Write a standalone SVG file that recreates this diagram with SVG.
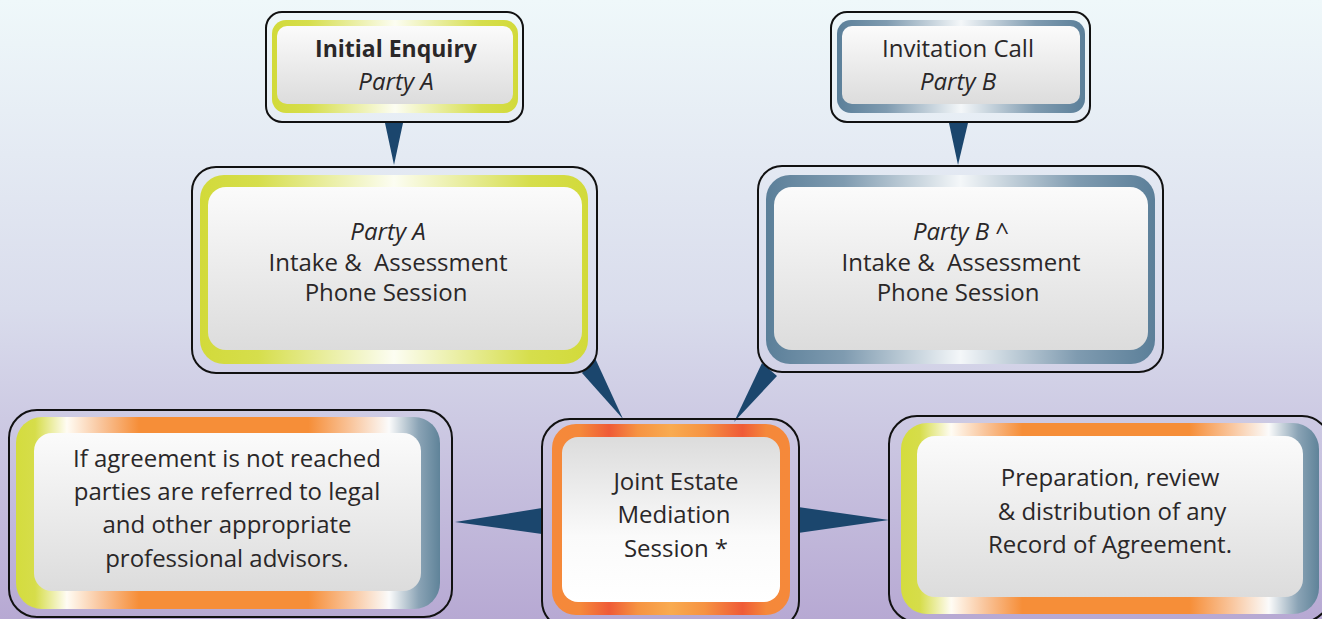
<svg xmlns="http://www.w3.org/2000/svg" width="1322" height="619" viewBox="0 0 1322 619">
<defs>
<linearGradient id="bg" x1="0" y1="0" x2="0" y2="1">
<stop offset="0" stop-color="#eff8fa"/>
<stop offset="0.5" stop-color="#d9dcec"/>
<stop offset="1" stop-color="#b7a9d3"/>
</linearGradient>
<linearGradient id="gYel" x1="0" y1="0" x2="1" y2="0">
<stop offset="0" stop-color="#d2da3a"/>
<stop offset="0.15" stop-color="#d6de4c"/>
<stop offset="0.5" stop-color="#fcfdf2"/>
<stop offset="0.85" stop-color="#d6de4c"/>
<stop offset="1" stop-color="#d2da3a"/>
</linearGradient>
<linearGradient id="gBlu" x1="0" y1="0" x2="1" y2="0">
<stop offset="0" stop-color="#5b7f99"/>
<stop offset="0.2" stop-color="#7f9bb0"/>
<stop offset="0.5" stop-color="#f4f7f9"/>
<stop offset="0.8" stop-color="#7f9bb0"/>
<stop offset="1" stop-color="#5b7f99"/>
</linearGradient>
<linearGradient id="gOra" x1="0" y1="0" x2="1" y2="0">
<stop offset="0" stop-color="#f5893a"/>
<stop offset="0.12" stop-color="#f5883a"/>
<stop offset="0.24" stop-color="#ef5b37"/>
<stop offset="0.36" stop-color="#f69342"/>
<stop offset="0.5" stop-color="#f9ab50"/>
<stop offset="0.64" stop-color="#f69342"/>
<stop offset="0.8" stop-color="#ef5b37"/>
<stop offset="0.9" stop-color="#f5883a"/>
<stop offset="1" stop-color="#f5893a"/>
</linearGradient>
<linearGradient id="gMix" x1="0" y1="0" x2="1" y2="0">
<stop offset="0" stop-color="#d4dc3e"/>
<stop offset="0.045" stop-color="#d6dd4a"/>
<stop offset="0.12" stop-color="#fffcf4"/>
<stop offset="0.2" stop-color="#f9c59c"/>
<stop offset="0.29" stop-color="#f68e38"/>
<stop offset="0.69" stop-color="#f68e38"/>
<stop offset="0.79" stop-color="#f9c59c"/>
<stop offset="0.88" stop-color="#fbfbfb"/>
<stop offset="0.95" stop-color="#8aa3b5"/>
<stop offset="1" stop-color="#5f8399"/>
</linearGradient>
<linearGradient id="gIn" x1="0" y1="0" x2="0" y2="1">
<stop offset="0" stop-color="#fbfbfb"/>
<stop offset="1" stop-color="#dcdcdc"/>
</linearGradient>
<linearGradient id="gInR" x1="0" y1="0" x2="0" y2="1">
<stop offset="0" stop-color="#dcdcdc"/>
<stop offset="0.6" stop-color="#fafafa"/>
<stop offset="1" stop-color="#ffffff"/>
</linearGradient>
</defs>
<style>
.outer{fill:none;stroke:#111;stroke-width:2}
.t{font-family:"Open Sans","Noto Sans",sans-serif;font-size:24px;fill:#2a2728;text-anchor:middle}
.b{font-weight:bold;font-size:23px}
.i{font-style:italic}
.conn{fill:#1b466d}
</style>
<rect width="1322" height="619" fill="url(#bg)"/>

<g id="connectors">
<polygon class="conn" points="385,123 403,123 394,165"/>
<polygon class="conn" points="949,123 968,123 958,165"/>
<polygon class="conn" points="582,373 595,358 623,419"/>
<polygon class="conn" points="762,363 777,376 734,422"/>
<polygon class="conn" points="542,508 542,534 455,522"/>
<polygon class="conn" points="798,507 798,533 889,520"/>
</g>

<g id="initial-enquiry">
<rect class="outer" x="266" y="12" width="257" height="110" rx="16"/>
<rect x="272" y="20" width="246" height="93" rx="14" fill="url(#gYel)"/>
<rect x="277" y="26" width="236" height="78" rx="10" fill="url(#gIn)"/>
<text class="t b" x="396" y="57">Initial Enquiry</text>
<text class="t i" x="396" y="90">Party A</text>
</g>

<g id="invitation-call">
<rect class="outer" x="831" y="12" width="259" height="110" rx="16"/>
<rect x="837" y="20" width="248" height="93" rx="14" fill="url(#gBlu)"/>
<rect x="842" y="26" width="238" height="78" rx="10" fill="url(#gIn)"/>
<text class="t" x="958" y="57">Invitation Call</text>
<text class="t i" x="958" y="90">Party B</text>
</g>

<g id="party-a-intake">
<rect class="outer" x="192" y="167" width="405" height="206" rx="24"/>
<rect x="200" y="175" width="388" height="189" rx="24" fill="url(#gYel)"/>
<rect x="208" y="187" width="374" height="163" rx="18" fill="url(#gIn)"/>
<text class="t i" x="388" y="240">Party A</text>
<text class="t" x="388" y="271" xml:space="preserve">Intake &amp;  Assessment</text>
<text class="t" x="386" y="301">Phone Session</text>
</g>

<g id="party-b-intake">
<rect class="outer" x="758" y="166" width="405" height="206" rx="24"/>
<rect x="766" y="175" width="389" height="189" rx="24" fill="url(#gBlu)"/>
<rect x="774" y="187" width="374" height="163" rx="18" fill="url(#gIn)"/>
<text class="t" x="961" y="240"><tspan class="i">Party B</tspan> ^</text>
<text class="t" x="961" y="271" xml:space="preserve">Intake &amp;  Assessment</text>
<text class="t" x="958" y="301">Phone Session</text>
</g>

<g id="joint-mediation">
<rect class="outer" x="542" y="419" width="257" height="210" rx="28"/>
<rect x="552" y="424" width="238" height="191" rx="24" fill="url(#gOra)"/>
<rect x="562" y="437" width="218" height="165" rx="16" fill="url(#gInR)"/>
<text class="t" x="676" y="490">Joint Estate</text>
<text class="t" x="674" y="523">Mediation</text>
<text class="t" x="676" y="557">Session *</text>
</g>

<g id="not-reached">
<rect class="outer" x="9" y="410" width="443" height="207" rx="28"/>
<rect x="16" y="417" width="424" height="192" rx="26" fill="url(#gMix)"/>
<rect x="34" y="433" width="387" height="158" rx="18" fill="url(#gIn)"/>
<text class="t" x="227" y="467">If agreement is not reached</text>
<text class="t" x="227" y="500">parties are referred to legal</text>
<text class="t" x="227" y="533">and other appropriate</text>
<text class="t" x="227" y="567">professional advisors.</text>
</g>

<g id="record-agreement">
<rect class="outer" x="889" y="416" width="441" height="206" rx="28"/>
<rect x="901" y="423" width="418" height="191" rx="26" fill="url(#gMix)"/>
<rect x="917" y="436" width="386" height="161" rx="18" fill="url(#gIn)"/>
<text class="t" x="1110" y="486">Preparation, review</text>
<text class="t" x="1112" y="520">&amp; distribution of any</text>
<text class="t" x="1110" y="553">Record of Agreement.</text>
</g>
</svg>
